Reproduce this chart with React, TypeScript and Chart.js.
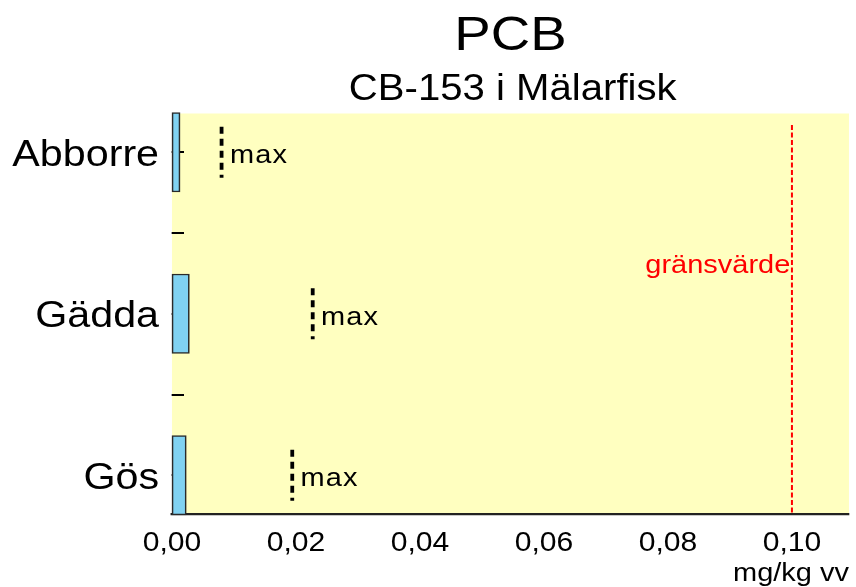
import React, { useEffect, useRef } from 'react';
import { Chart, registerables } from 'chart.js';

Chart.register(...registerables);

// ---- data ----
const categories = ['Abborre', 'Gädda', 'Gös'];
const medianValues = [0.0013, 0.0028, 0.0023];
const maxValues = [0.008, 0.0227, 0.0194];
const limitValue = 0.1;
const xMin = 0;
const xMax = 0.1092;
const xStep = 0.02;
const titleText = 'PCB';
const subtitleText = 'CB-153 i Mälarfisk';
const maxLabel = 'max';
const limitLabel = 'gränsvärde';
const unitLabel = 'mg/kg vv';

// ---- styles / layout ----
const FONT = "'Liberation Sans', Arial, Helvetica, sans-serif";
const W = 768;
const H = 587;
const DISPLAY_W = 856;
const SX = DISPLAY_W / W;

const stretchPlugin = {
  id: 'stretch',
  afterInit(chart: any) {
    const c = chart.canvas as HTMLCanvasElement;
    c.width = DISPLAY_W;
    c.height = H;
    chart.ctx.setTransform(SX, 0, 0, 1, 0, 0);
  },
};

const bgPlugin = {
  id: 'plotBg',
  beforeDraw(chart: any) {
    const { ctx, chartArea: a } = chart;
    ctx.save();
    ctx.fillStyle = '#FFFFC0';
    ctx.fillRect(a.left, a.top, a.right - a.left, a.bottom - a.top);
    ctx.restore();
  },
};

const overlayPlugin = {
  id: 'overlay',
  afterDraw(chart: any) {
    const { ctx, chartArea: a } = chart;
    const xs = chart.scales.x;
    const ys = chart.scales.y;
    ctx.save();
    ctx.fillStyle = '#000';
    ctx.textBaseline = 'alphabetic';
    ctx.textAlign = 'center';
    const cx = (a.left + a.right) / 2;
    ctx.font = `49px ${FONT}`;
    ctx.fillText(titleText, cx, 50);
    ctx.font = `36px ${FONT}`;
    ctx.fillText(subtitleText, cx + 2, 100);

    // max markers
    maxValues.forEach((v, i) => {
      const x = xs.getPixelForValue(v);
      const y0 = ys.getPixelForValue(i - 0.158);
      const y1 = ys.getPixelForValue(i + 0.158);
      ctx.beginPath();
      ctx.setLineDash([7, 5]);
      ctx.lineWidth = 3.4;
      ctx.strokeStyle = '#000';
      ctx.moveTo(x, y0);
      ctx.lineTo(x, y1);
      ctx.stroke();
      ctx.setLineDash([]);
      ctx.fillStyle = '#000';
      ctx.font = `26px ${FONT}`;
      ctx.textAlign = 'left';
      (ctx as any).letterSpacing = '1px';
      ctx.fillText(maxLabel, x + 7.5, ys.getPixelForValue(i) + 11);
      (ctx as any).letterSpacing = '0px';
    });

    // limit line
    const lx = xs.getPixelForValue(limitValue);
    ctx.beginPath();
    ctx.strokeStyle = '#FF0000';
    ctx.lineWidth = 1.8;
    ctx.setLineDash([5, 2.5]);
    ctx.moveTo(lx, a.top + 11.5);
    ctx.lineTo(lx, a.bottom);
    ctx.stroke();
    ctx.setLineDash([]);
    ctx.fillStyle = '#FF0000';
    ctx.font = `26px ${FONT}`;
    ctx.textAlign = 'right';
    ctx.fillText(limitLabel, lx - 1.5, 273);
    ctx.restore();
  },
};

export default function App() {
  const ref = useRef<HTMLCanvasElement | null>(null);

  useEffect(() => {
    document.body.style.margin = '0';
    const canvas = ref.current;
    if (!canvas) return;
    const chart = new Chart(canvas, {
      type: 'bar',
      data: {
        datasets: [
          {
            data: categories.map((c, i) => ({ x: medianValues[i], y: i })),
            backgroundColor: '#80D2F2',
            borderColor: '#2A2A2A',
            borderWidth: 1.5,
            borderSkipped: false,
            barThickness: 79.5,
            clip: 2,
          } as any,
        ],
      },
      options: {
        indexAxis: 'y',
        responsive: false,
        animation: false,
        devicePixelRatio: 1,
        layout: { padding: { top: 113.5, right: 6.3, left: 0, bottom: 0 } },
        plugins: {
          legend: { display: false },
          tooltip: { enabled: false },
          title: { display: false },
        },
        scales: {
          x: {
            type: 'linear',
            position: 'bottom',
            offset: false,
            min: xMin,
            max: xMax,
            grid: { display: false, offset: false },
            border: { display: true, color: '#222', width: 2.3 },
            ticks: {
              stepSize: xStep,
              includeBounds: false,
              autoSkip: false,
              maxRotation: 0,
              padding: 5,
              color: '#000',
              font: { family: FONT, size: 27 },
              callback: (v: any) => Number(v).toFixed(2).replace('.', ','),
            },
            title: {
              display: true,
              text: unitLabel,
              align: 'end',
              color: '#000',
              font: { family: FONT, size: 26 },
              padding: { top: 0, bottom: -2 },
            },
            afterFit: (s: any) => {
              s.height = 72.5;
            },
          },
          y: {
            type: 'linear',
            position: 'left',
            reverse: true,
            offset: false,
            min: -0.24,
            max: 2.243,
            grid: {
              display: true,
              offset: false,
              drawOnChartArea: false,
              drawTicks: true,
              tickLength: -10.8,
              color: '#000',
              lineWidth: 2,
            },
            border: { display: false },
            ticks: {
              stepSize: 0.5,
              includeBounds: false,
              autoSkip: false,
              padding: 22.4,
              labelOffset: 3.5,
              color: '#000',
              font: { family: FONT, size: 37 },
              callback: (v: any) => (Number.isInteger(v) ? categories[v] : ''),
            },
            afterFit: (s: any) => {
              s.width = 154.3;
            },
          },
        },
      } as any,
      plugins: [stretchPlugin, bgPlugin, overlayPlugin],
    });
    return () => chart.destroy();
  }, []);

  return (
    <canvas
      ref={ref}
      width={W}
      height={H}
      style={{ width: DISPLAY_W + 'px', height: H + 'px', display: 'block' }}
    />
  );
}
